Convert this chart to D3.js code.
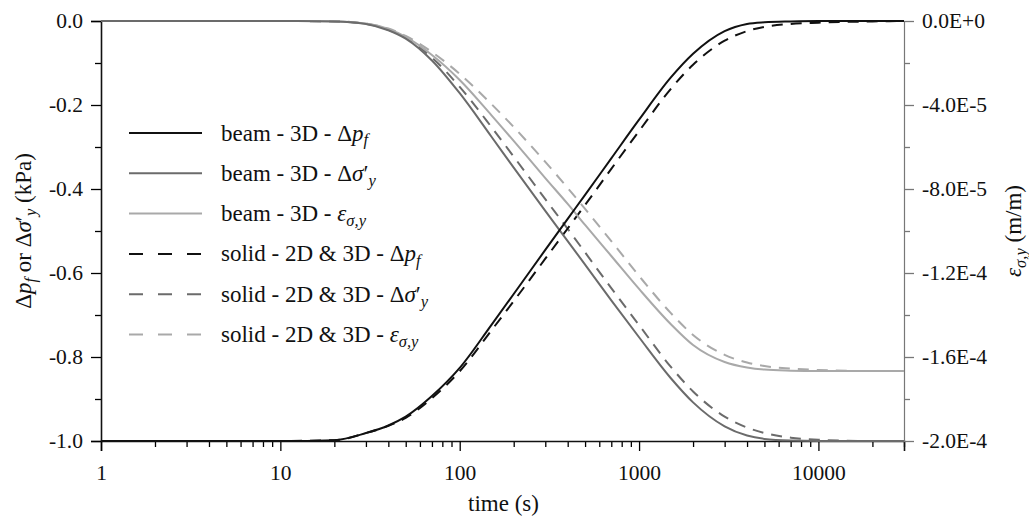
<!doctype html>
<html lang="en">
<head>
<meta charset="utf-8">
<title>Pore pressure and stress vs time</title>
<style>
  body { margin: 0; background: #fff; }
  svg { display: block; font-family: "Liberation Serif", "Times New Roman", serif; }
</style>
</head>
<body>
<div id="chart"></div>
<script src="https://d3js.org/d3.v7.min.js"></script>
<script>
// time grid (s)
var time = [1, 10, 20, 30, 40, 50, 70, 100, 150, 200, 300, 400, 500, 700, 1000, 1500, 2000, 3000, 4000, 5000, 7000, 10000, 20000, 30000];

// left axis series (kPa)
var beamPf  = [-1, -1, -0.998, -0.981, -0.963, -0.942, -0.893, -0.826, -0.724, -0.650, -0.545, -0.471, -0.414, -0.327, -0.235, -0.135, -0.078, -0.024, -0.007, -0.003, -0.001, 0, 0, 0];
var beamSy  = [0, 0, -0.001, -0.007, -0.022, -0.042, -0.094, -0.172, -0.275, -0.349, -0.452, -0.524, -0.580, -0.665, -0.753, -0.850, -0.908, -0.965, -0.987, -0.995, -0.999, -1, -1, -1];
var solidPf = [-1, -1, -0.998, -0.981, -0.964, -0.945, -0.898, -0.834, -0.737, -0.667, -0.566, -0.494, -0.438, -0.352, -0.262, -0.162, -0.104, -0.047, -0.024, -0.014, -0.007, -0.004, -0.001, 0];
var solidSy = [0, 0, -0.001, -0.007, -0.021, -0.040, -0.087, -0.157, -0.252, -0.323, -0.424, -0.495, -0.551, -0.636, -0.724, -0.823, -0.882, -0.942, -0.968, -0.981, -0.992, -0.997, -1, -1];

// right axis series (m/m)
var beamEps  = [0, 0, -0.14e-6, -1.2e-6, -3.8e-6, -7.6e-6, -16.2e-6, -28.1e-6, -44.8e-6, -57.1e-6, -74.8e-6, -87.1e-6, -97.1e-6, -111.9e-6, -127.6e-6, -144.3e-6, -154.3e-6, -162.4e-6, -165.0e-6, -166.0e-6, -166.5e-6, -166.7e-6, -166.7e-6, -166.7e-6];
var solidEps = [0, 0, -0.14e-6, -1.2e-6, -3.6e-6, -7.1e-6, -14.8e-6, -25.2e-6, -39.5e-6, -50.5e-6, -67.1e-6, -79.5e-6, -89.5e-6, -104.8e-6, -121.4e-6, -139.0e-6, -149.5e-6, -159.0e-6, -162.6e-6, -164.3e-6, -165.5e-6, -166.2e-6, -166.7e-6, -166.7e-6];

// ticks
var xMajor = [1, 10, 100, 1000, 10000];
var leftTicks = [0, -0.2, -0.4, -0.6, -0.8, -1.0];
var rightTicks = [0, -4e-5, -8e-5, -1.2e-4, -1.6e-4, -2e-4];

var W = 1029, H = 516;
var m = {top: 21, right: 125, bottom: 75, left: 101};
var w = W - m.left - m.right, h = H - m.top - m.bottom;

var black = "#111", dark = "#6b6b6b", light = "#a9a9a9";

var svg = d3.select("#chart").append("svg")
  .attr("width", W)
  .attr("height", H);

var g = svg.append("g").attr("transform", "translate(" + m.left + "," + m.top + ")");

var x = d3.scaleLog().domain([1, 30000]).range([0, w]);
var yL = d3.scaleLinear().domain([-1, 0]).range([h, 0]);
var yR = d3.scaleLinear().domain([-2e-4, 0]).range([h, 0]);

// minor ticks
var xMinor = [];
[1, 10, 100, 1000, 10000].forEach(function(dec) {
  for (var k = 2; k <= 9; k++) if (dec * k <= 30000) xMinor.push(dec * k);
});
var leftMinor = d3.range(-0.9, 0, 0.2);
var rightMinor = d3.range(-1.8e-4, 0, 4e-5);

// x axis
g.append("g").attr("transform", "translate(0," + h + ")")
  .call(d3.axisBottom(x).tickValues(xMinor).tickSize(6).tickFormat(""))
  .call(function(s) { s.select(".domain").remove(); });
var gx = g.append("g").attr("transform", "translate(0," + h + ")")
  .call(d3.axisBottom(x).tickValues(xMajor).tickSize(10).tickPadding(14).tickFormat(d3.format("d")));

// left axis
g.append("g")
  .call(d3.axisLeft(yL).tickValues(leftMinor).tickSize(6).tickFormat(""))
  .call(function(s) { s.select(".domain").remove(); });
var gl = g.append("g")
  .call(d3.axisLeft(yL).tickValues(leftTicks).tickSize(10).tickPadding(8)
    .tickFormat(function(d) { return d.toFixed(1); }));

// right axis
g.append("g").attr("transform", "translate(" + w + ",0)")
  .call(d3.axisRight(yR).tickValues(rightMinor).tickSize(6).tickFormat(""))
  .call(function(s) { s.select(".domain").remove(); s.selectAll("line").attr("stroke", "#777"); });
var gr = g.append("g").attr("transform", "translate(" + w + ",0)")
  .call(d3.axisRight(yR).tickValues(rightTicks).tickSize(10).tickPadding(8)
    .tickFormat(function(d) { return d.toExponential(1).toUpperCase(); }));
gr.select(".domain").attr("stroke", "#777").attr("stroke-width", 1.2);
gr.selectAll(".tick line").attr("stroke", "#777");

g.selectAll(".tick line").attr("stroke-width", 1.3);
gx.select(".domain").attr("stroke-width", 1.6).attr("stroke", black);
gl.select(".domain").attr("stroke-width", 1.6).attr("stroke", black);
g.selectAll(".tick text").attr("font-family", "Liberation Serif").attr("font-size", 21.5).attr("fill", "#111");

// curves
var lineL = function(vals) {
  return d3.line().curve(d3.curveMonotoneX)
    .x(function(d, i) { return x(time[i]); })
    .y(function(d) { return yL(d); })(vals);
};
var lineR = function(vals) {
  return d3.line().curve(d3.curveMonotoneX)
    .x(function(d, i) { return x(time[i]); })
    .y(function(d) { return yR(d); })(vals);
};

var series = [
  {path: lineR(solidEps), color: light, dash: "11,8"},
  {path: lineL(solidSy), color: dark, dash: "11,8"},
  {path: lineL(solidPf), color: black, dash: "11,8"},
  {path: lineR(beamEps), color: light, dash: null},
  {path: lineL(beamSy), color: dark, dash: null},
  {path: lineL(beamPf), color: black, dash: null}
];
g.selectAll(".curve").data(series).enter().append("path")
  .attr("class", "curve")
  .attr("d", function(d) { return d.path; })
  .attr("fill", "none")
  .attr("stroke", function(d) { return d.color; })
  .attr("stroke-width", 2)
  .attr("stroke-dasharray", function(d) { return d.dash; });

// rich text helper: parts = [text, style]
function rich(sel, parts) {
  var sub = false;
  parts.forEach(function(p) {
    var t = sel.append("tspan").text(p[0]);
    var st = p[1] || "";
    if (st.indexOf("i") >= 0) t.attr("font-style", "italic");
    if (st.indexOf("s") >= 0) {
      t.attr("font-size", "0.72em").attr("dy", "0.3em");
      sub = true;
    } else if (sub) {
      t.attr("dy", "-0.22em");
      sub = false;
    }
  });
}

// legend
var legendLabels = [
  [["beam - 3D - Δ"], ["p", "i"], ["f", "is"]],
  [["beam - 3D - Δ"], ["σ", "i"], ["′"], ["y", "is"]],
  [["beam - 3D - "], ["ε", "i"], ["σ,y", "is"]],
  [["solid - 2D & 3D - Δ"], ["p", "i"], ["f", "is"]],
  [["solid - 2D & 3D - Δ"], ["σ", "i"], ["′"], ["y", "is"]],
  [["solid - 2D & 3D - "], ["ε", "i"], ["σ,y", "is"]]
];
var legendStyle = [
  {color: black, dash: null}, {color: dark, dash: null}, {color: light, dash: null},
  {color: black, dash: "14,15"}, {color: dark, dash: "14,15"}, {color: light, dash: "14,15"}
];
var leg = svg.append("g").attr("transform", "translate(129,133)");
legendLabels.forEach(function(lab, i) {
  var row = leg.append("g").attr("transform", "translate(0," + (i * 40.3) + ")");
  row.append("line").attr("x1", 0).attr("x2", 73).attr("y1", 0).attr("y2", 0)
    .attr("stroke", legendStyle[i].color).attr("stroke-width", 2)
    .attr("stroke-dasharray", legendStyle[i].dash);
  var t = row.append("text").attr("x", 92).attr("y", 7.5)
    .attr("font-size", 23).attr("fill", "#111");
  rich(t, lab);
});

// axis titles
svg.append("text").attr("x", m.left + w / 2 + 1).attr("y", 511)
  .attr("text-anchor", "middle").attr("font-size", 23).attr("fill", "#111")
  .text("time (s)");

var tl = svg.append("text").attr("transform", "rotate(-90)")
  .attr("x", -(m.top + h / 2)).attr("y", 31)
  .attr("text-anchor", "middle").attr("font-size", 23).attr("fill", "#111");
rich(tl, [["Δ"], ["p", "i"], ["f", "is"], [" or Δ"], ["σ", "i"], ["′"], ["y", "is"], [" (kPa)"]]);

var tr = svg.append("text").attr("transform", "rotate(-90)")
  .attr("x", -(m.top + h / 2)).attr("y", 1021)
  .attr("text-anchor", "middle").attr("font-size", 23).attr("fill", "#111");
rich(tr, [["ε", "i"], ["σ,y", "is"], [" (m/m)"]]);
</script>
</body>
</html>
